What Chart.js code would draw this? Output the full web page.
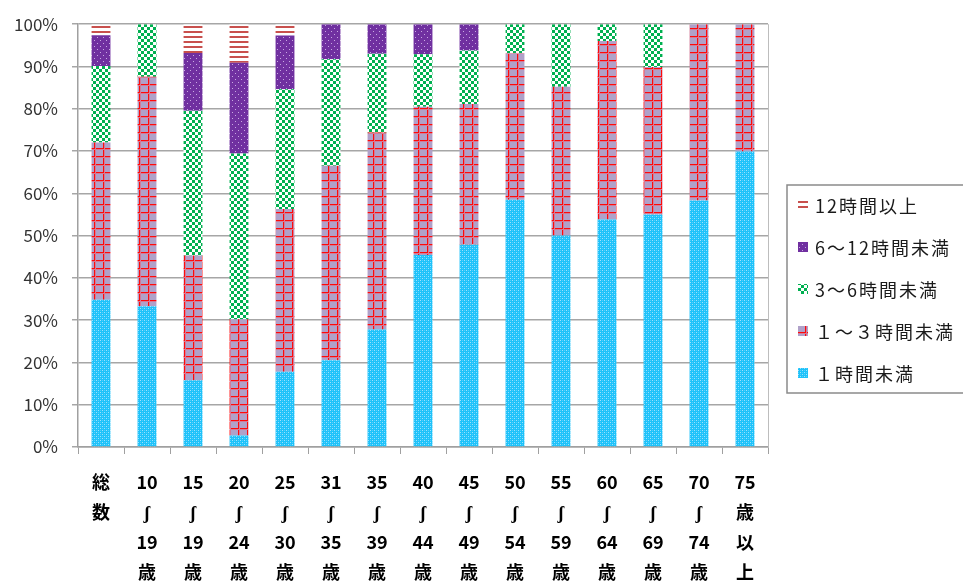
<!DOCTYPE html>
<html>
<head>
<meta charset="utf-8">
<style>
  html, body { margin: 0; padding: 0; background: #fff; }
  #wrap { width: 963px; height: 584px; position: relative; }
</style>
<script src="https://cdn.jsdelivr.net/npm/chart.js@4/dist/chart.umd.min.js"></script>
</head>
<body>
<div id="wrap"><canvas id="myChart" width="963" height="584"></canvas></div>
<script>
// age groups, each label is stacked vertically under its bar
const labels = [
  ['総', '数'],
  ['10', 'ʃ', '19', '歳'],
  ['15', 'ʃ', '19', '歳'],
  ['20', 'ʃ', '24', '歳'],
  ['25', 'ʃ', '30', '歳'],
  ['31', 'ʃ', '35', '歳'],
  ['35', 'ʃ', '39', '歳'],
  ['40', 'ʃ', '44', '歳'],
  ['45', 'ʃ', '49', '歳'],
  ['50', 'ʃ', '54', '歳'],
  ['55', 'ʃ', '59', '歳'],
  ['60', 'ʃ', '64', '歳'],
  ['65', 'ʃ', '69', '歳'],
  ['70', 'ʃ', '74', '歳'],
  ['75', '歳', '以', '上'],
];

const seriesNames = ['１時間未満', '１～３時間未満', '3～6時間未満', '6～12時間未満', '12時間以上'];

// percent of each group
const under1h   = [34.8, 33.3, 15.8,  2.7, 17.8, 20.5, 27.8, 45.4, 47.9, 58.5, 50.0, 53.8, 55.0, 58.3, 69.9];
const h1to3     = [37.2, 54.3, 29.5, 27.5, 38.5, 46.0, 46.6, 35.1, 33.2, 34.6, 35.2, 42.2, 34.9, 41.7, 30.1];
const h3to6     = [18.1, 12.4, 34.2, 39.2, 28.3, 25.2, 18.6, 12.4, 12.7,  6.9, 14.8,  4.0, 10.1,  0,    0];
const h6to12    = [ 7.3,  0,   13.7, 21.5, 12.7,  8.3,  7.0,  7.1,  6.2,  0,    0,    0,    0,    0,    0];
const over12h   = [ 2.6,  0,    6.8,  9.1,  2.7,  0,    0,    0,    0,    0,    0,    0,    0,    0,    0];

const yTicks = [0, 10, 20, 30, 40, 50, 60, 70, 80, 90, 100];

function makePattern(w, h, draw) {
  const c = document.createElement('canvas');
  c.width = w; c.height = h;
  const g = c.getContext('2d');
  draw(g);
  return g.createPattern(c, 'repeat');
}

const bluePat = makePattern(4, 4, g => {
  g.fillStyle = '#1EC2FA'; g.fillRect(0, 0, 4, 4);
  g.fillStyle = '#9CE2FD'; g.fillRect(0, 0, 1, 1); g.fillRect(2, 2, 1, 1);
  g.fillStyle = '#4FCFFB'; g.fillRect(2, 0, 1, 1); g.fillRect(0, 2, 1, 1);
});
const gridPat = makePattern(9, 8, g => {
  g.fillStyle = '#B0A1C9'; g.fillRect(0, 0, 9, 8);
  g.fillStyle = '#FF0A0A'; g.fillRect(4, 0, 1, 8); g.fillRect(0, 4, 9, 1);
  g.fillStyle = '#D27A98'; g.fillRect(5, 0, 1, 8); g.fillRect(0, 5, 9, 1);
  g.fillStyle = '#FF0A0A'; g.fillRect(4, 4, 1, 1);
});
const checkPat = makePattern(6, 6, g => {
  g.fillStyle = '#FFFFFF'; g.fillRect(0, 0, 6, 6);
  g.fillStyle = '#00B050'; g.fillRect(0, 0, 3, 3); g.fillRect(3, 3, 3, 3);
});
const purplePat = makePattern(6, 6, g => {
  g.fillStyle = '#7030A0'; g.fillRect(0, 0, 6, 6);
  g.fillStyle = '#C9A9E2'; g.fillRect(1, 1, 1, 1); g.fillRect(4, 4, 1, 1);
});
const stripePat = makePattern(5, 5, g => {
  g.fillStyle = '#FFFFFF'; g.fillRect(0, 0, 5, 5);
  g.fillStyle = '#C8504D'; g.fillRect(0, 1, 5, 2);
});

const patterns = [bluePat, gridPat, checkPat, purplePat, stripePat];
const values = [under1h, h1to3, h3to6, h6to12, over12h];

const data = {
  labels: labels,
  datasets: values.map((v, i) => ({
    label: seriesNames[i],
    data: v,
    backgroundColor: patterns[i],
    borderWidth: 0,
    barPercentage: 0.41,
    categoryPercentage: 1.0,
  }))
};

// boxed legend on the right plus the plot's right border
const boxLegend = {
  id: 'boxLegend',
  afterDraw(chart) {
    const c = chart.ctx;
    const a = chart.chartArea;
    c.save();
    c.strokeStyle = '#BDBDBD';
    c.lineWidth = 1;
    c.beginPath();
    c.moveTo(a.right + 0.5, a.top);
    c.lineTo(a.right + 0.5, a.bottom);
    c.stroke();

    c.strokeStyle = '#8A8A8A';
    c.lineWidth = 1.5;
    c.strokeRect(787, 185, 190, 208);

    c.font = '18px "Noto Sans CJK JP"';
    c.letterSpacing = '2px';
    c.textBaseline = 'middle';
    const ds = chart.data.datasets;
    for (let k = 0; k < ds.length; k++) {
      const d = ds[ds.length - 1 - k];
      const y = 205 + k * 42;
      c.fillStyle = d.backgroundColor;
      c.fillRect(798, y - 5, 10, 10);
      c.fillStyle = '#1a1a1a';
      c.fillText(d.label, 815, y + 1);
    }
    c.restore();
  }
};

const config = {
  type: 'bar',
  data: data,
  plugins: [boxLegend],
  options: {
    responsive: false,
    animation: false,
    layout: { padding: { top: 23, right: 195, bottom: 0, left: 0 } },
    plugins: {
      legend: { display: false },
      tooltip: { enabled: false }
    },
    scales: {
      x: {
        stacked: true,
        afterFit: s => { s.height = 137; },
        grid: {
          offset: true,
          drawOnChartArea: false,
          drawTicks: true,
          tickLength: 7,
          color: '#A0A0A0'
        },
        border: { color: '#A0A0A0', width: 1.5 },
        ticks: {
          autoSkip: false,
          maxRotation: 0,
          padding: 13,
          color: '#000',
          font: { family: '"Noto Sans CJK JP"', size: 18, weight: 'bold', lineHeight: '30px' }
        }
      },
      y: {
        stacked: true,
        min: 0,
        max: 100,
        afterFit: s => { s.width = 78; },
        afterBuildTicks: s => { s.ticks = yTicks.map(v => ({ value: v })); },
        grid: {
          color: '#A6A6A6',
          lineWidth: 1.5,
          tickLength: 6
        },
        border: { color: '#A0A0A0', width: 1.5 },
        ticks: {
          padding: 14,
          color: '#333',
          font: { family: '"Noto Sans CJK JP"', size: 17 },
          callback: v => v + '%'
        }
      }
    }
  }
};

const myChart = new Chart(document.getElementById('myChart'), config);
</script>
</body>
</html>
